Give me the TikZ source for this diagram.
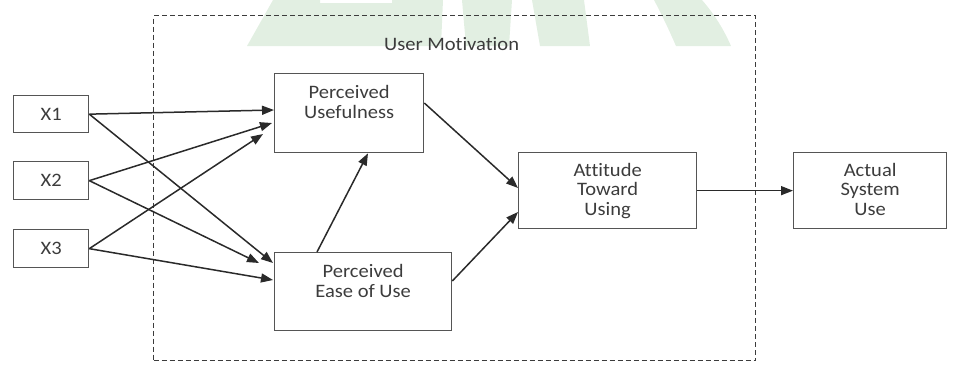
\documentclass[tikz,border=0pt]{standalone}
\usepackage{fontspec}
\setmainfont{Carlito}[FakeStretch=1.08,Ligatures=NoCommon]
\usetikzlibrary{arrows.meta,calc}
\definecolor{txt}{HTML}{3C3C3C}
\definecolor{edge}{HTML}{555555}
\definecolor{lnk}{HTML}{2A2A2A}
\definecolor{wm}{RGB}{226,239,226}
\begin{document}
\begin{tikzpicture}[x=1pt,y=-1pt,
  font=\fontsize{19}{19.5}\selectfont,
  box/.style={draw=edge, line width=1.3pt, inner sep=0pt, anchor=north west, text=txt},
  lbl/.style={text=txt, align=center, inner sep=0pt, anchor=base},
  arr/.style={draw=lnk, line width=1.5pt, -{Triangle[length=12pt,width=9pt]}},
  frame/.style={draw=txt, line width=1.1pt, dash pattern=on 5pt off 3pt, inner sep=0pt, anchor=north west}]
\useasboundingbox (0,0) rectangle (960,365);
% watermark
\fill[wm] (247,46) -- (273,0) -- (320,0) -- (320,3) -- (392,3) -- (392,0) -- (443,0) -- (441,46) -- cycle;
\fill[wm] (462,0) -- (512,0) -- (509,46) -- (466,46) -- cycle;
\fill[wm] (532,0) -- (584,0) -- (590,46) -- (540,46) -- cycle;
\fill[wm] (654,0) -- (702,0) .. controls (715,15) and (724,30) .. (731,46) -- (676,46) .. controls (669,30) and (662,15) .. cycle;
% frame
\node[frame, minimum width=602pt, minimum height=345pt] (um) at (153,15) {};
\node[lbl] (umt) at ($(um.north)+(-3,35)$) {User Motivation};
% boxes
\node[box, minimum width=75pt, minimum height=37pt] (x1) at (13,95) {X1};
\node[box, minimum width=75pt, minimum height=38pt] (x2) at (13,161) {X2};
\node[box, minimum width=75pt, minimum height=38pt] (x3) at (13,229) {X3};
\node[box, minimum width=149pt, minimum height=79pt] (pu) at (274,73) {};
\node[box, minimum width=177pt, minimum height=78pt] (peou) at (274,252) {};
\node[box, minimum width=178pt, minimum height=76pt] (atu) at (518,152) {};
\node[box, minimum width=153pt, minimum height=76pt] (asu) at (793,152) {};
% multi-line labels: base anchor is the last line
\node[lbl] (put) at ($(pu.north)+(0,45)$) {Perceived\\Usefulness};
\node[lbl] (peout) at ($(peou.north)+(0,45)$) {Perceived\\Ease of Use};
\node[lbl] (atut) at ($(atu.north)+(0,63)$) {Attitude\\Toward\\Using};
\node[lbl] (asut) at ($(asu.north)+(0,63)$) {Actual\\System\\Use};
% arrow end points
\coordinate (e1) at ($(pu.north west)+(0,37)$);
\coordinate (e2) at ($(pu.north west)+(-2,50)$);
\coordinate (e3) at ($(pu.north west)+(-11,61)$);
\coordinate (f1) at ($(peou.north west)+(-1,11)$);
\coordinate (f2) at ($(peou.north west)+(-15,11)$);
\coordinate (f3) at ($(peou.north west)+(-1,28)$);
\coordinate (g0) at ($(peou.north west)+(43,0)$);
\coordinate (g1) at ($(pu.south west)+(94,0)$);
\coordinate (h0) at ($(pu.north east)+(0,30)$);
\coordinate (h1) at ($(atu.north west)+(0,36)$);
\coordinate (k0) at ($(peou.north east)+(0,29)$);
\coordinate (k1) at ($(atu.north west)+(0,60)$);
% connectors
\draw[arr] (x1.east) -- (e1);
\draw[arr] (x2.east) -- (e2);
\draw[arr] (x3.east) -- (e3);
\draw[arr] (x1.east) -- (f1);
\draw[arr] (x2.east) -- (f2);
\draw[arr] (x3.east) -- (f3);
\draw[arr] (g0) -- (g1);
\draw[arr] (h0) -- (h1);
\draw[arr] (k0) -- (k1);
\draw[arr] (atu.east) -- (asu.west);
\end{tikzpicture}
\end{document}
